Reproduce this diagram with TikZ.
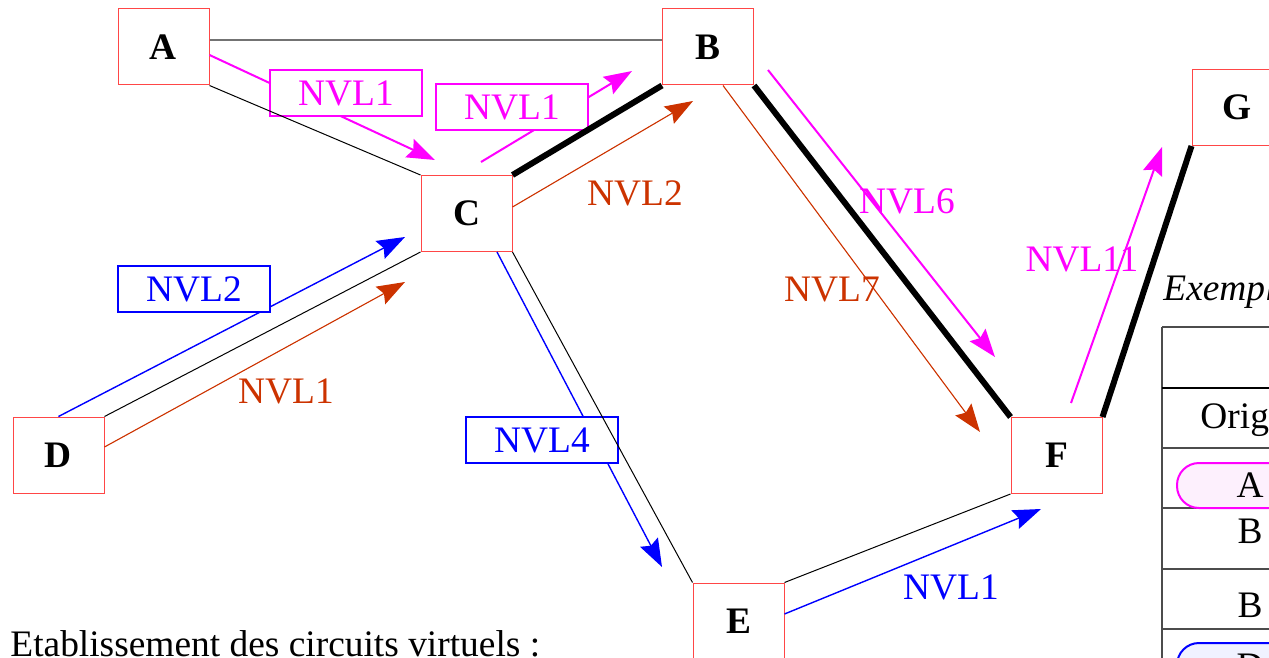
\documentclass[tikz,border=0pt]{standalone}
\usepackage{fontspec}
\setmainfont{Liberation Serif}
\usetikzlibrary{arrows.meta}
\definecolor{nvmag}{RGB}{255,0,255}
\definecolor{nvblue}{RGB}{0,0,255}
\definecolor{nvorange}{RGB}{204,51,0}
\definecolor{boxred}{RGB}{255,70,70}
\definecolor{pillpink}{RGB}{253,240,253}
\definecolor{pillblue}{RGB}{240,242,255}
\newcommand\nvfs{\fontsize{18.7}{22}\selectfont}
\begin{document}
\begin{tikzpicture}[x=0.5pt,y=-0.5pt,
  router/.style={draw=boxred, fill=white, line width=0.5pt, minimum width=45.5pt, minimum height=38pt, inner sep=0pt, font=\nvfs\bfseries},
  link/.style={draw=black, line width=0.5pt},
  greylink/.style={draw=black!55, line width=0.8pt},
  trunk/.style={draw=black, line width=3pt},
  vc/.style={-{Stealth[length=14pt,width=10pt,inset=2pt]}},
  magarrow/.style={vc, draw=nvmag, fill=nvmag, line width=1pt},
  bluearrow/.style={vc, draw=nvblue, fill=nvblue, line width=0.7pt},
  orarrow/.style={vc, draw=nvorange, fill=nvorange, line width=0.55pt},
  lbox/.style={draw, fill=white, line width=1.2pt, minimum width=76pt, minimum height=23pt, inner sep=0pt, font=\nvfs},
  ltext/.style={font=\nvfs, inner sep=0pt},
  tline/.style={draw=black!70, line width=0.6pt},
  plain/.style={font=\nvfs, inner sep=0pt}
]
\useasboundingbox (0,0) rectangle (1269,658);
\clip (0,0) rectangle (1269,658);

% routers
\node[router] (A) at (163.5,47) {A};
\node[router] (B) at (708,47) {B};
\node[router] (C) at (466.5,213.5) {C};
\node[router] (D) at (58.5,455) {D};
\node[router] (E) at (738.5,621) {E};
\node[router] (F) at (1056.5,455.5) {F};
\node[router] (G) at (1237.5,107.5) {G};

% free arrow ends
\coordinate (m1e) at (435,160);
\coordinate (m2s) at (481,162);
\coordinate (m2e) at (632,71);
\coordinate (o1e) at (693,101);
\coordinate (b1e) at (405,237);
\coordinate (o2e) at (405,282);
\coordinate (b2e) at (662,567);
\coordinate (b3e) at (1041,509);
\coordinate (m3s) at (768,70);
\coordinate (m3e) at (995,357);
\coordinate (o3e) at (980,432);
\coordinate (m4s) at (1071,403);
\coordinate (m4e) at (1162,147);

% virtual circuits
\draw[magarrow] ([yshift=-4pt]A.east) -- (m1e);
\draw[magarrow] (m2s) -- (m2e);
\draw[orarrow] ([yshift=3.25pt]C.east) -- (o1e);
\draw[bluearrow] (D.north) -- (b1e);
\draw[orarrow] ([yshift=4pt]D.east) -- (o2e);
\draw[bluearrow] ([xshift=15.25pt]C.south) -- (b2e);
\draw[bluearrow] ([yshift=3.5pt]E.east) -- (b3e);
\draw[magarrow] (m3s) -- (m3e);
\draw[orarrow] ([xshift=7.5pt]B.south) -- (o3e);
\draw[magarrow] (m4s) -- (m4e);

% labels
\node[lbox, draw=nvmag, text=nvmag] (l1) at (346,93) {NVL1};
\node[lbox, draw=nvmag, text=nvmag] (l2) at (512,107) {NVL1};
\node[ltext, text=nvorange] (l3) at (635,193) {NVL2};
\node[lbox, draw=nvblue, text=nvblue] (l4) at (194,289) {NVL2};
\node[ltext, text=nvorange] (l5) at (286,391) {NVL1};
\node[lbox, draw=nvblue, text=nvblue] (l6) at (542,440) {NVL4};
\node[ltext, text=nvblue] (l7) at (951,587) {NVL1};
\node[ltext, text=nvmag] (l8) at (907,201) {NVL6};
\node[ltext, text=nvorange] (l9) at (832,290) {NVL7};
\node[ltext, text=nvmag] (l10) at (1082,259) {NVL11};

% physical links
\draw[greylink] ([yshift=3.5pt]A.east) -- ([yshift=3.5pt]B.west);
\draw[link] (A.south east) -- (C.north west);
\draw[link] (D.north east) -- (C.south west);
\draw[link] (C.south east) -- (E.north west);
\draw[link] (E.north east) -- (F.south west);
\draw[trunk] (C.north east) -- (B.south west);
\draw[trunk] (B.south east) -- (F.north west);
\draw[trunk] (F.north east) -- (G.south west);

% table
\node[plain, anchor=base west, font=\nvfs\itshape] (ex) at (1163,300) {Exemple};
\draw[tline] (1162,327) -- (1300,327);
\draw[tline] (1162,327) -- (1162,700);
\draw[draw=black, line width=1.2pt] (1162,388) -- (1300,388);
\draw[tline] (1162,448) -- (1300,448);
\draw[tline] (1162,508) -- (1300,508);
\draw[tline] (1162,569) -- (1300,569);
\draw[tline] (1162,629) -- (1300,629);
\draw[draw=nvmag, fill=pillpink, line width=1pt, rounded corners=11pt] (1177,463) rectangle (1330,508);
\draw[draw=nvblue, fill=pillblue, line width=1pt, rounded corners=11pt] (1177,643) rectangle (1330,688);
\node[plain, anchor=base west] (orig) at (1200,428) {Origine};
\node[plain, anchor=base] (ta) at (1250,497) {A};
\node[plain, anchor=base] (tb1) at (1250,543) {B};
\node[plain, anchor=base] (tb2) at (1250,617) {B};
\node[plain, anchor=base] (td) at (1250,678) {D};

% caption
\node[plain, anchor=base west] (cap) at (10,656) {Etablissement des circuits virtuels :};
\end{tikzpicture}
\end{document}
